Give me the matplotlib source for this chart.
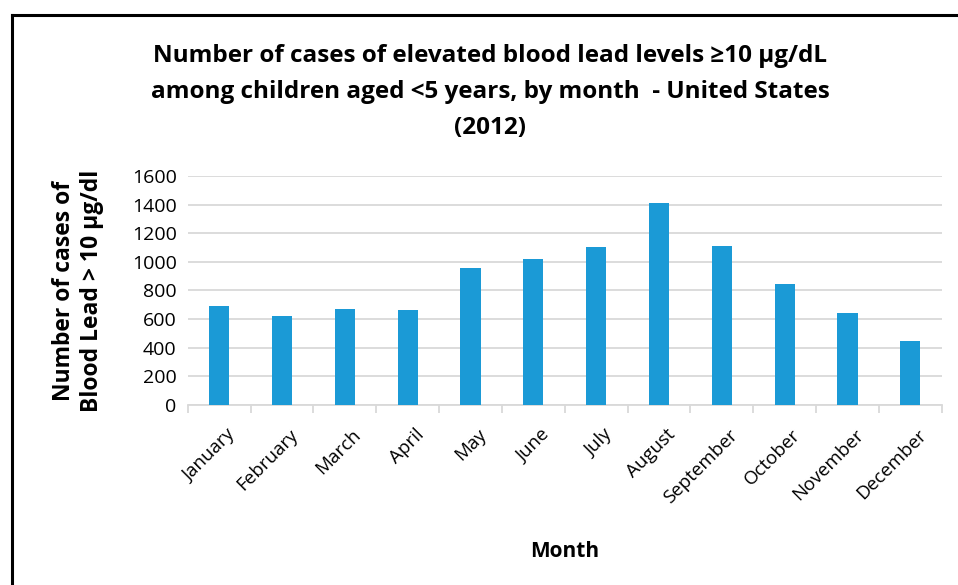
import matplotlib.pyplot as plt
import matplotlib.transforms as mtransforms
from matplotlib.lines import Line2D
import numpy as np

months = ['January', 'February', 'March', 'April', 'May', 'June', 'July',
          'August', 'September', 'October', 'November', 'December']
cases = [692, 622, 671, 664, 957, 1020, 1104, 1411, 1111, 846, 643, 447]
y_ticks = [0, 200, 400, 600, 800, 1000, 1200, 1400, 1600]

plt.rcParams['font.family'] = ['Open Sans', 'DejaVu Sans']

fig = plt.figure(figsize=(9.58, 5.85), dpi=100)
ax = fig.add_axes([0.196, 0.308, 0.787, 0.391])

x = np.arange(len(months))
ax.bar(x, cases, width=0.32, color='#1b9ad6', zorder=3)

ax.set_xlim(-0.5, len(months) - 0.5)
ax.set_ylim(0, 1600)
ax.set_yticks(y_ticks)
ax.set_yticklabels([str(v) for v in y_ticks], fontsize=14)
ax.tick_params(axis='y', length=0, pad=8)
ax.yaxis.grid(True, color='#d9d9d9', linewidth=1.3, zorder=0)

ax.set_xticks(x)
ax.set_xticklabels(months, rotation=45, ha='right', rotation_mode='anchor',
                   fontsize=13.5)
ax.tick_params(axis='x', which='major', length=0, pad=15)
# nudge rotated labels so their ends sit under the bars like Excel does
shift = mtransforms.ScaledTranslation(7 / 100, 0, fig.dpi_scale_trans)
for lbl in ax.get_xticklabels():
    lbl.set_transform(lbl.get_transform() + shift)
ax.set_xticks(np.arange(-0.5, len(months)), minor=True)
ax.tick_params(axis='x', which='minor', length=6, color='#d9d9d9', width=1.3)

for side in ['top', 'right', 'left']:
    ax.spines[side].set_visible(False)
ax.spines['bottom'].set_color('#d9d9d9')
ax.spines['bottom'].set_linewidth(1.3)

ax.set_ylabel('Number of cases of\nBlood Lead > 10 \u00b5g/dl', fontsize=16.5,
              fontweight='bold', labelpad=20, linespacing=1.2)
ax.set_xlabel('Month', fontsize=15, fontweight='bold', labelpad=25)

fig.text(0.512, 0.843,
         'Number of cases of elevated blood lead levels \u226510 \u00b5g/dL\n'
         'among children aged <5 years, by month  - United States\n(2012)',
         ha='center', va='center', fontsize=17.5, fontweight='bold',
         linespacing=1.65)

# outer frame
fig.add_artist(Line2D([0.0125, 1.0], [0.974, 0.974], color='black', lw=2.2,
                      transform=fig.transFigure))
fig.add_artist(Line2D([0.0125, 0.0125], [0.0, 0.974], color='black', lw=2.2,
                      transform=fig.transFigure))

fig.savefig('out.png', dpi=100)
